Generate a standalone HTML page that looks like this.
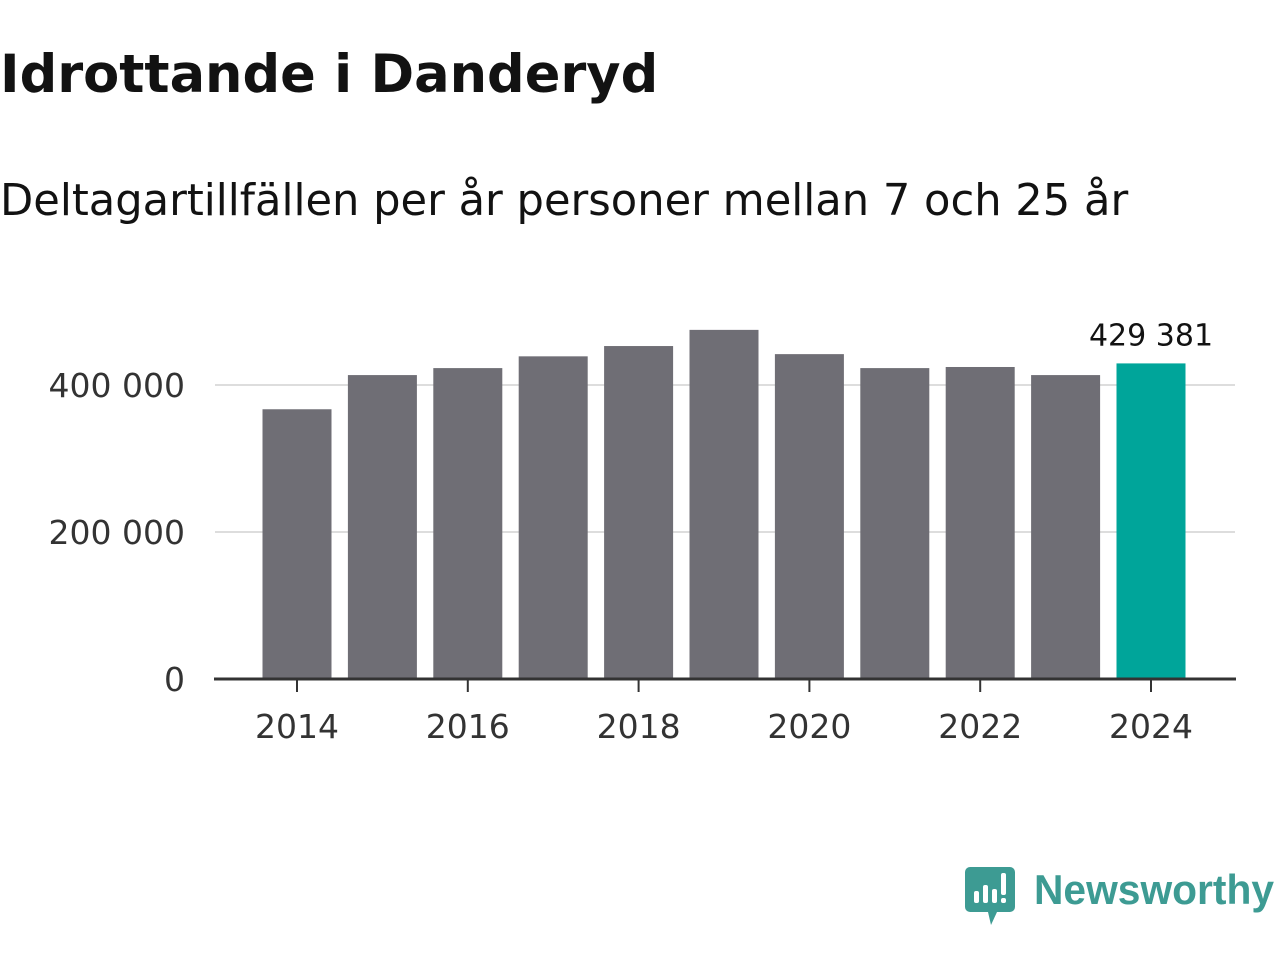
<!DOCTYPE html>
<html><head><meta charset="utf-8"><style>
body{margin:0;width:1280px;height:960px;background:#fff;overflow:hidden;font-family:"Liberation Sans","DejaVu Sans",sans-serif}
svg text{font-family:"DejaVu Sans","Liberation Sans",sans-serif}
</style></head><body>
<svg id="chart" width="1280" height="960">
<text x="0" y="92" font-size="52.6" font-weight="bold" fill="#121212">Idrottande i Danderyd</text>
<text x="0" y="215" font-size="43.2" fill="#121212">Deltagartillfällen per år personer mellan 7 och 25 år</text>
<g id="grid"></g><g id="bars"></g><g id="xaxis"></g>
<g>
<path d="M970 867 h40 a5 5 0 0 1 5 5 v35 a5 5 0 0 1 -5 5 h-13 l-6 13 l-3 -13 h-18 a5 5 0 0 1 -5 -5 v-35 a5 5 0 0 1 5 -5z" fill="#3d9b93"/>
<rect x="974" y="891" width="5" height="12" rx="2" fill="#fff"/><rect x="983" y="885" width="5" height="18" rx="2" fill="#fff"/><rect x="992" y="889" width="5" height="14" rx="2" fill="#fff"/><rect x="1001" y="873" width="5" height="22" rx="2" fill="#fff"/><rect x="1001" y="898" width="5" height="5" rx="2" fill="#fff"/>
<text x="1034" y="904" font-size="42" font-weight="bold" fill="#3d9b93" textLength="240" lengthAdjust="spacingAndGlyphs" style="font-family:'Liberation Sans',sans-serif">Newsworthy</text>
</g>
</svg>
<script>
const years=[2014,2015,2016,2017,2018,2019,2020,2021,2022,2023,2024];
const values=[367000,413500,423000,439000,453000,475000,442000,423000,424500,413500,429381];
const yTicks=[0,200000,400000];
const yTickLabels=["0","200 000","400 000"];
const xTicks=[2014,2016,2018,2020,2022,2024];
const ns="http://www.w3.org/2000/svg";
const y=v=>679-v*147/200000;
const x=yr=>297+(yr-2014)*85.4;
function mk(tag,attrs,parent,txt){const e=document.createElementNS(ns,tag);for(const k in attrs)e.setAttribute(k,attrs[k]);if(txt!==undefined)e.textContent=txt;document.getElementById(parent).appendChild(e);return e;}
yTicks.forEach((t,i)=>{
 if(t>0){const l=mk('line',{x1:215,x2:1235,y1:y(t),y2:y(t),stroke:'#ddd','stroke-width':2},'grid');
 
 }
 const tx=mk('text',{x:185,y:y(t)+12,'font-size':33,fill:'#333','text-anchor':'end'},'grid',yTickLabels[i]);
 
 
});
years.forEach((yr,i)=>{
 const last=i===years.length-1;
 const r=mk('rect',{x:x(yr)-34.5,y:y(values[i]),width:69,height:679-y(values[i]),fill:last?'#00a59a':'#6f6e75'},'bars');
 
 
 if(last){const t=mk('text',{x:x(yr),y:y(values[i])-18,'font-size':30,fill:'#121212','text-anchor':'middle'},'bars',values[i].toLocaleString('sv-SE').replace(/\s/g,' '));
 
 }
});
const ax=mk('line',{x1:214,x2:1236,y1:679,y2:679,stroke:'#333','stroke-width':3},'xaxis');


xTicks.forEach(yr=>{
 const tk=mk('line',{x1:x(yr),x2:x(yr),y1:679,y2:692,stroke:'#333','stroke-width':2},'xaxis');
 
 
 const t=mk('text',{x:x(yr),y:738,'font-size':33,fill:'#333','text-anchor':'middle'},'xaxis',yr);
 
 
});
</script>
</body></html>
